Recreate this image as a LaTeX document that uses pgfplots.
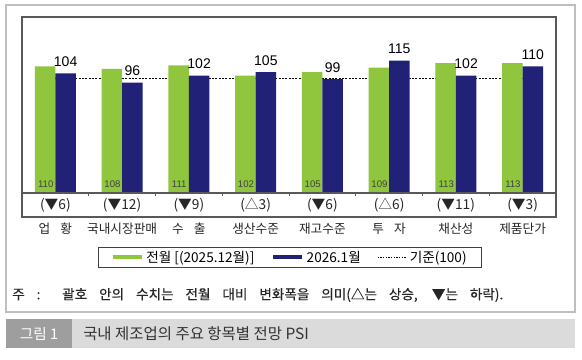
\documentclass[border=0pt]{standalone}
\usepackage{pgfplots}
\pgfplotsset{compat=1.18}
\usepackage{fontspec}
\setmainfont{Noto Sans CJK KR}
\newfontfamily\numfont{Liberation Sans}
\newfontfamily\notefont[FakeBold=0.25]{Noto Sans CJK KR}
\definecolor{mygreen}{RGB}{143,198,62}
\definecolor{mynavy}{RGB}{33,33,120}
\newcommand{\fs}[1]{\fontsize{#1}{#1}\selectfont}
\begin{document}
\begin{tikzpicture}
\begin{scope}[x=0.75pt,y=0.75pt]
\useasboundingbox (0,0) rectangle (582,360);
\fill[white] (0,0) rectangle (582,360);
\draw[black!25, line width=0.9pt] (6,48) rectangle (575,355);
\node[anchor=west, inner sep=0, text=black!85] at (12,65) {\notefont\fs{10.2}\makebox[368.25pt][s]{주 : 괄호 안의 수치는 전월 대비 변화폭을 의미(△는 상승, ▼는 하락).}};
\fill[black!14] (72,12) rectangle (575,41);
\fill[black!38] (6,12) rectangle (72,41);
\node[text=white] at (39,26.5) {\fs{11}그림 1};
\node[anchor=west, inner sep=0, text=black!80] at (83,26.5) {\fs{11.6}국내 제조업의 주요 항목별 전망 PSI};
\end{scope}
\begin{axis}[
  at={(16.5pt,107.25pt)}, anchor=south west,
  width=400.5pt, height=150pt, scale only axis,
  xmin=-0.5, xmax=7.5, ymin=-20.9, ymax=153,
  /pgf/number format/assume math mode=true,
  axis line style={black!65, line width=0.9pt},
  xtick={0,...,7},
  xticklabels={업\hspace{0.8em}황, 국내시장판매, 수\hspace{0.8em}출, 생산수준, 재고수준, 투\hspace{0.8em}자, 채산성, 제품단가},
  major tick length=0pt, ytick=\empty,
  xticklabel style={font=\fs{9.5}, text=black!85, yshift=-1pt},
  clip=false,
  legend columns=3,
  legend image code/.code={\draw[#1] (0pt,0pt) -- (21.75pt,0pt);},
  legend style={at={(0.5019,-0.2025)}, anchor=center, draw=black!75, line width=0.75pt,
    font=\fs{10.2}, inner ysep=0.5pt, inner xsep=9pt,
    /tikz/every even column/.append style={column sep=10.5pt}},
]
\addplot[forget plot, black, line width=0.5pt, dash pattern=on 1.5pt off 1pt] coordinates {(0,100) (7,100)};
\addplot[forget plot, ybar, bar width=15.375pt, bar shift=-7.69pt, fill=mygreen, draw=none]
  coordinates {(0,110) (1,108) (2,111) (3,102) (4,105) (5,109) (6,113) (7,113)};
\addplot[forget plot, ybar, bar width=15.375pt, bar shift=7.69pt, fill=mynavy, draw=none,
  nodes near coords, every node near coord/.append style={font=\numfont\fs{10.5}, text=black, xshift=7.69pt, yshift=1.5pt}]
  coordinates {(0,104) (1,96) (2,102) (3,105) (4,99) (5,115) (6,102) (7,110)};
\addplot[forget plot, only marks, mark=none, point meta=explicit symbolic,
  nodes near coords, every node near coord/.append style={font=\numfont\fs{7.2}, text=black!75, anchor=center}]
  coordinates {(-0.145,7.8)[110] (0.855,7.8)[108] (1.855,7.8)[111] (2.855,7.8)[102] (3.855,7.8)[105] (4.855,7.8)[109] (5.855,7.8)[113] (6.855,7.8)[113]};
\addplot[forget plot, only marks, mark=none, point meta=explicit symbolic,
  nodes near coords, every node near coord/.append style={font=\fs{10.3}, text=black!85, anchor=center}]
  coordinates {(0,-10.4)[(▼6)] (1,-10.4)[(▼12)] (2,-10.4)[(▼9)] (3,-10.4)[(△3)] (4,-10.4)[(▼6)] (5,-10.4)[(△6)] (6,-10.4)[(▼11)] (7,-10.4)[(▼3)]};
\draw[black!65, line width=0.9pt] (axis cs:-0.5,0) -- (axis cs:7.5,0);
\pgfplotsinvokeforeach{0.5,1.5,2.5,3.5,4.5,5.5,6.5}{\draw[black!65, line width=0.6pt] (axis cs:#1,0) -- ++(0pt,-2.2pt);}
\addlegendimage{mygreen, line width=3pt}
\addlegendentry{전월 [(2025.12월)]}
\addlegendimage{mynavy, line width=3pt}
\addlegendentry{2026.1월}
\addlegendimage{black, line width=0.5pt, dash pattern=on 1pt off 1pt}
\addlegendentry{기준(100)}
\end{axis}
\end{tikzpicture}
\end{document}
